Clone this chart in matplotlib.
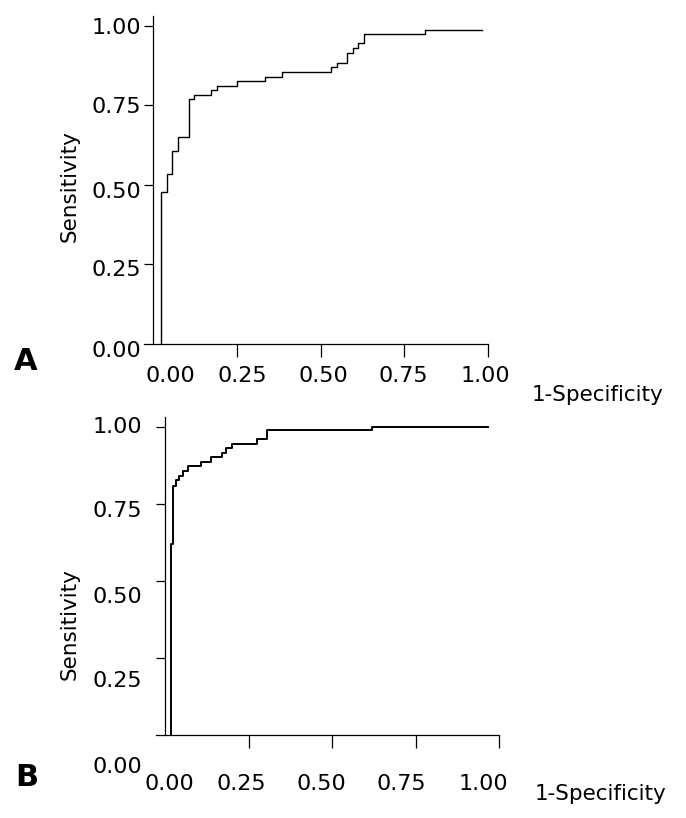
import matplotlib
matplotlib.use("Agg")
import matplotlib.pyplot as plt

plt.rcParams['font.family'] = ['DejaVu Sans']

W, H = 686, 818

# ROC curve A (step corners)
fpr_a = [0.024, 0.041, 0.058, 0.075, 0.107, 0.123, 0.172, 0.19, 0.251, 0.335,
         0.386, 0.531, 0.549, 0.579, 0.597, 0.612, 0.63, 0.811, 0.983]
tpr_a = [0, 0.477, 0.534, 0.607, 0.651, 0.769, 0.782, 0.797, 0.811, 0.826,
         0.840, 0.856, 0.870, 0.884, 0.915, 0.929, 0.946, 0.973, 0.986]

# ROC curve B
fpr_b = [0.018, 0.025, 0.032, 0.042, 0.055, 0.07, 0.108, 0.137, 0.172, 0.183,
         0.202, 0.275, 0.305, 0.619, 0.966]
tpr_b = [0, 0.619, 0.808, 0.826, 0.839, 0.856, 0.871, 0.885, 0.900, 0.915,
         0.929, 0.943, 0.960, 0.988, 1.0]

tick_vals = [0.25, 0.5, 0.75, 1.0]
tick_labels = ['0.00', '0.25', '0.50', '0.75', '1.00']


def fx(px):
    return px / W


def fy(py):
    return 1 - py / H


def txt(x, y, s, **kw):
    fig.text(fx(x), fy(y), s, **kw)


fig = plt.figure(figsize=(W / 100, H / 100), dpi=100)

# axes rectangles in pixels: left, right, top, bottom
boxes = {'A': (144, 488, 16, 344), 'B': (156, 499, 417, 735)}
curves = {'A': (fpr_a, tpr_a, 1.0), 'B': (fpr_b, tpr_b, 1.4)}

for key in ['A', 'B']:
    l, r, t, b = boxes[key]
    ax = fig.add_axes([fx(l), fy(b), (r - l) / W, (b - t) / H])
    x, y, lw = curves[key]
    ax.step(x, y, where='pre', color='black', lw=lw)
    ax.set_xlim(-0.027, 1.0)
    ax.set_ylim(0, 1.031)
    ax.spines['left'].set_position(('data', 0))
    ax.spines['top'].set_visible(False)
    ax.spines['right'].set_visible(False)
    for sp in ax.spines.values():
        sp.set_linewidth(0.9)
    ax.set_xticks(tick_vals)
    ax.set_yticks(tick_vals)
    ax.set_xticklabels([])
    ax.set_yticklabels([])
    ax.tick_params(axis='x', length=9, width=0.9, direction='out')
    ax.tick_params(axis='y', length=6.5, width=0.9, direction='out')

tick_kw = dict(fontsize=16, va='baseline', color='black')

# panel A labels
for s, yb in zip(tick_labels, [357, 275.5, 198, 113, 34.5]):
    txt(141, yb, s, ha='right', **tick_kw)
for s, xc in zip(tick_labels, [170, 242, 323, 403, 485]):
    txt(xc, 382, s, ha='center', **tick_kw)
txt(532, 401, '1-Specificity', fontsize=15.5, ha='left', va='baseline')
txt(70, 186.5, 'Sensitivity', fontsize=15.5, rotation=90, ha='center', va='center')
txt(14, 370, 'A', fontsize=22, fontweight='bold', ha='left', va='baseline')

# panel B labels
for s, yb in zip(tick_labels, [773, 687, 603, 517, 433]):
    txt(142, yb, s, ha='right', **tick_kw)
for s, xc in zip(tick_labels, [169, 241.5, 321.5, 401.5, 483]):
    txt(xc, 790, s, ha='center', **tick_kw)
txt(535, 800, '1-Specificity', fontsize=15.5, ha='left', va='baseline')
txt(70, 624, 'Sensitivity', fontsize=15.5, rotation=90, ha='center', va='center')
txt(15, 786, 'B', fontsize=22, fontweight='bold', ha='left', va='baseline')

fig.savefig('out.png', dpi=100)
